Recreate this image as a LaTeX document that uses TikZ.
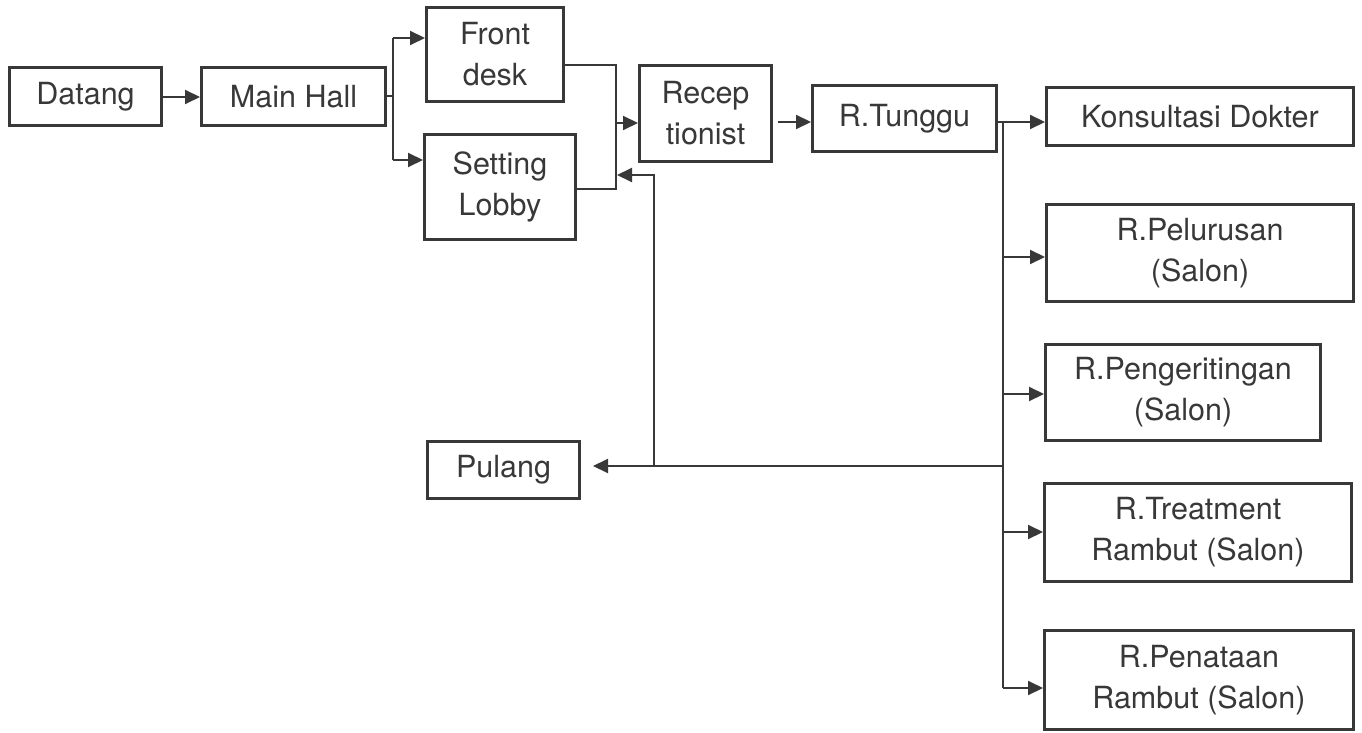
\documentclass[tikz,border=0pt]{standalone}
\usepackage{fontspec}
\setmainfont{TeX Gyre Heros}
\usetikzlibrary{arrows.meta}
\definecolor{ink}{HTML}{383838}
\begin{document}
\begin{tikzpicture}[x=1pt,y=-1pt,
  box/.style={draw=ink, line width=3pt, text=ink, inner sep=0pt, align=center,
    font=\fontsize{30.5}{41}\selectfont},
  conn/.style={draw=ink, line width=2pt},
  arr/.style={conn, -{Triangle[length=15pt,width=14pt]}}]
\useasboundingbox (0,0) rectangle (1362,733);
\fill[white] (0,0) rectangle (1362,733);
% nodes
\node[box, minimum width=152pt, minimum height=58pt] (DT) at (85.5,97) {Datang};
\node[box, minimum width=184pt, minimum height=58pt] (MH) at (293.5,96.5) {Main Hall};
\node[box, minimum width=137pt, minimum height=94pt] (FD) at (495,54.5) {Front\\desk};
\node[box, minimum width=151pt, minimum height=105pt] (SL) at (500,187) {Setting\\Lobby};
\node[box, minimum width=132pt, minimum height=96pt] (RC) at (705.5,113.5) {Recep\\tionist};
\node[box, minimum width=184pt, minimum height=66pt] (RT) at (904.5,118.5) {R.Tunggu};
\node[box, minimum width=307pt, minimum height=58pt] (KD) at (1200,116.5) {Konsultasi Dokter};
\node[box, minimum width=307pt, minimum height=97pt] (PL) at (1200,253) {R.Pelurusan\\(Salon)};
\node[box, minimum width=275pt, minimum height=96pt] (PG) at (1183,392.5) {R.Pengeritingan\\(Salon)};
\node[box, minimum width=307pt, minimum height=98pt] (TR) at (1198,532.5) {R.Treatment\\Rambut (Salon)};
\node[box, minimum width=309pt, minimum height=99pt] (PN) at (1199,680) {R.Penataan\\Rambut (Salon)};
\node[box, minimum width=152pt, minimum height=57pt] (PU) at (503.5,470) {Pulang};
% coordinates
\coordinate (bt) at (393,38);
\coordinate (bb) at (393,160);
\coordinate (jt) at (616,65);
\coordinate (jb) at (616,189);
\coordinate (jm) at (616,123);
\coordinate (rt) at (778,122);
\coordinate (vt) at (1003,122);
\coordinate (vb) at (1003,688);
\coordinate (v1) at (1003,257);
\coordinate (v2) at (1003,394);
\coordinate (v3) at (1003,532);
\coordinate (vp) at (1003,466);
\coordinate (fb) at (654,466);
\coordinate (ft) at (654,175);
\coordinate (fa) at (617,175);
% connectors
\draw[arr] (DT.east) -- (DT.east -| MH.west);
\draw[conn] (MH.east) -- (MH.east -| bt);
\draw[conn] (bt) -- (bb);
\draw[arr] (bt) -- (bt -| FD.west);
\draw[arr] (bb) -- (bb -| SL.west);
\draw[conn] (FD.east |- jt) -- (jt) -- (jb) -- (SL.east |- jb);
\draw[arr] (jm) -- (jm -| RC.west);
\draw[arr] (rt) -- (rt -| RT.west);
\draw[conn] (RT.east |- vt) -- (vt) -- (vb);
\draw[arr] (vt) -- (vt -| KD.west);
\draw[arr] (v1) -- (v1 -| PL.west);
\draw[arr] (v2) -- (v2 -| PG.west);
\draw[arr] (v3) -- (v3 -| TR.west);
\draw[arr] (vb) -- (vb -| PN.west);
\draw[arr, shorten >=12pt] (vp) -- (vp -| PU.east);
\draw[arr] (fb) -- (ft) -- (fa);
\end{tikzpicture}
\end{document}
